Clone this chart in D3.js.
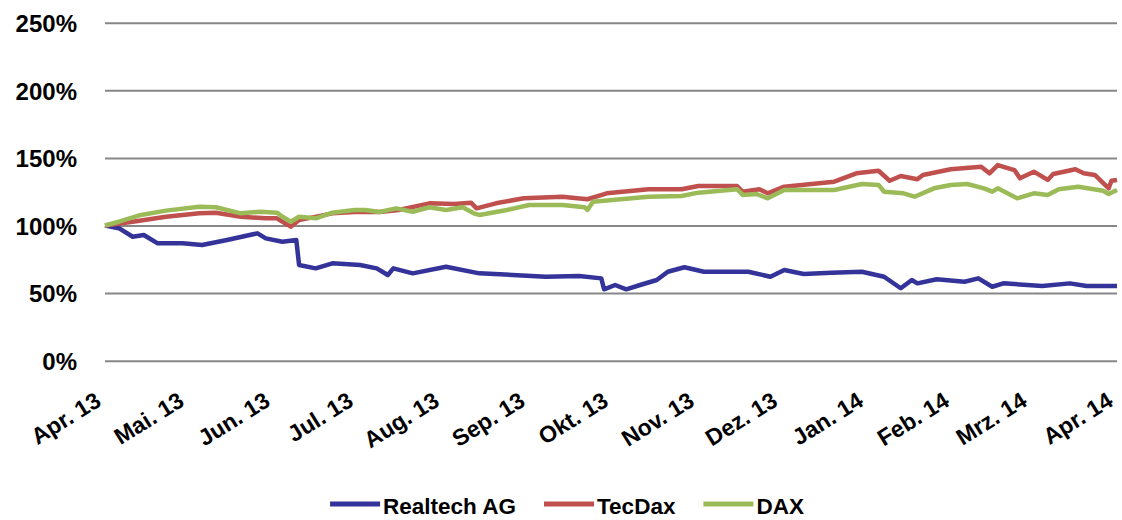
<!DOCTYPE html>
<html><head><meta charset="utf-8">
<script src="https://cdn.jsdelivr.net/npm/d3@7"></script>
<style>
body{margin:0;background:#fff}
svg{display:block}
text{font-family:"Liberation Sans",Arial,sans-serif;font-weight:bold;fill:#000}
</style>
</head><body>
<svg id="chart" width="1122" height="520"></svg>
<script>
const tickLabels = ["Apr. 13","Mai. 13","Jun. 13","Jul. 13","Aug. 13","Sep. 13","Okt. 13","Nov. 13","Dez. 13","Jan. 14","Feb. 14","Mrz. 14","Apr. 14"];
const yTicks = [0,50,100,150,200,250];
const seriesNames = ["Realtech AG","TecDax","DAX"];
const seriesColors = ["#333399","#C0504D","#9BBB59"];

const realtechDates = ["2013-04-01","2013-04-06","2013-04-11","2013-04-15","2013-04-20","2013-04-29","2013-05-06","2013-05-15","2013-05-26","2013-05-29","2013-06-04","2013-06-09","2013-06-10","2013-06-16","2013-06-22","2013-07-02","2013-07-08","2013-07-12","2013-07-14","2013-07-21","2013-08-02","2013-08-14","2013-08-26","2013-09-07","2013-09-19","2013-09-27","2013-09-28","2013-10-02","2013-10-06","2013-10-11","2013-10-17","2013-10-21","2013-10-27","2013-11-03","2013-11-19","2013-11-27","2013-12-02","2013-12-09","2013-12-19","2013-12-30","2014-01-07","2014-01-13","2014-01-17","2014-01-19","2014-01-26","2014-02-05","2014-02-10","2014-02-15","2014-02-19","2014-03-05","2014-03-15","2014-03-21","2014-04-01"];
const realtechValues = [100,98,91.7,93,86.8,86.8,85.6,89.3,94.2,90.5,88,89.3,70.8,68.3,72,70.8,68.3,63.4,68.3,64.6,69.5,64.6,63.4,62.1,62.6,60.9,52.8,56,52.8,56,59.7,65.8,69.1,65.8,65.8,62.1,67.1,64.1,65.1,65.8,62.1,53.6,59.7,57.2,60.2,58.4,60.9,54.7,57.2,55.3,57.2,55.3,55.3];

const tecdaxDates = ["2013-04-01","2013-04-11","2013-04-23","2013-05-05","2013-05-11","2013-05-20","2013-05-29","2013-06-02","2013-06-06","2013-06-07","2013-06-10","2013-06-22","2013-06-30","2013-07-09","2013-07-16","2013-07-27","2013-08-05","2013-08-11","2013-08-13","2013-08-20","2013-08-30","2013-09-13","2013-09-22","2013-09-29","2013-10-14","2013-10-26","2013-11-01","2013-11-15","2013-11-17","2013-11-23","2013-11-26","2013-12-02","2013-12-20","2013-12-28","2014-01-05","2014-01-09","2014-01-13","2014-01-19","2014-01-21","2014-01-31","2014-02-11","2014-02-14","2014-02-17","2014-02-23","2014-02-25","2014-03-02","2014-03-07","2014-03-09","2014-03-17","2014-03-20","2014-03-24","2014-03-29","2014-03-30","2014-04-01"];
const tecdaxValues = [100,102.8,106.5,109,109.5,106.5,105.3,105.3,100.4,99.1,104,109,110,110,111.5,116.4,115.9,116.9,112.7,116.4,120.1,121.3,119.4,123.8,126.8,126.8,129.2,129.2,125,126.8,123.8,128.7,132.4,138.6,140.5,133.1,136.6,134.2,137.4,141.6,143.5,138.6,144.7,141,134.9,139.8,133.7,138.1,141.6,138.6,137.4,127.5,133.1,133.7];

const daxDates = ["2013-04-01","2013-04-06","2013-04-14","2013-04-23","2013-05-05","2013-05-11","2013-05-20","2013-05-27","2013-06-02","2013-06-04","2013-06-07","2013-06-10","2013-06-16","2013-06-22","2013-06-30","2013-07-04","2013-07-09","2013-07-15","2013-07-21","2013-07-27","2013-08-02","2013-08-08","2013-08-12","2013-08-14","2013-08-24","2013-09-01","2013-09-13","2013-09-21","2013-09-22","2013-09-24","2013-10-01","2013-10-14","2013-10-26","2013-11-01","2013-11-15","2013-11-17","2013-11-22","2013-11-26","2013-12-02","2013-12-20","2013-12-30","2014-01-05","2014-01-07","2014-01-14","2014-01-18","2014-01-25","2014-01-31","2014-02-06","2014-02-12","2014-02-15","2014-02-17","2014-02-24","2014-03-02","2014-03-07","2014-03-11","2014-03-18","2014-03-27","2014-03-29","2014-04-01"];
const daxValues = [100,102.8,107.8,111,113.9,113.5,109,110.2,109.5,106.5,102.8,106.5,105.3,109.5,111.5,111.5,110,112.7,110.2,113.5,111.5,113.5,109,107.8,111.5,115.2,115.2,113.5,111.5,117.6,118.9,121.3,121.8,124.3,126.8,122.6,123.3,120.1,126.3,126.3,130.7,130,125,123.8,121.3,127.5,130,130.7,127.5,125,127.5,120.1,123.8,122.6,126.8,128.7,125.7,123.3,126.3];

const parse = d3.timeParse("%Y-%m-%d");
const series = [
  {name: seriesNames[0], color: seriesColors[0], dates: realtechDates, values: realtechValues},
  {name: seriesNames[1], color: seriesColors[1], dates: tecdaxDates, values: tecdaxValues},
  {name: seriesNames[2], color: seriesColors[2], dates: daxDates, values: daxValues}
].map(s => ({...s, points: s.dates.map((d, i) => ({date: parse(d), value: s.values[i]}))}));

const svg = d3.select("#chart");
const plotLeft = 105, plotRight = 1117, plotTop = 22.7, plotBottom = 360.7;

const x = d3.scaleTime().domain([parse("2013-04-01"), parse("2014-04-01")]).range([plotLeft, plotRight]);
const y = d3.scaleLinear().domain([0, 250]).range([plotBottom, plotTop]);

// Y axis with gridlines
const yAxis = svg.append("g").attr("transform", `translate(${plotLeft},0)`)
  .call(d3.axisLeft(y).tickValues(yTicks).tickSize(-(plotRight - plotLeft)).tickPadding(28).tickFormat(d => d + "%"));
yAxis.select(".domain").remove();
yAxis.selectAll(".tick line").attr("stroke", "#878787").attr("stroke-width", 2);
yAxis.selectAll(".tick text").attr("font-size", 24).attr("dy", "0.37em").attr("fill", "#000");

// X axis labels
const monthTicks = d3.timeMonth.range(parse("2013-04-01"), parse("2014-04-02"));
const xAxis = svg.append("g").attr("transform", `translate(0,${plotBottom})`)
  .call(d3.axisBottom(x).tickValues(monthTicks).tickSize(0).tickFormat((d, i) => tickLabels[i]));
xAxis.select(".domain").remove();
xAxis.selectAll(".tick text")
  .attr("font-size", 23)
  .attr("text-anchor", "end")
  .attr("y", 0).attr("dy", 0)
  .attr("transform", "translate(-3,44) rotate(-32)")
  .attr("fill", "#000");

// Lines
const line = d3.line().x(d => x(d.date)).y(d => y(d.value));
svg.append("g").selectAll("path").data(series).join("path")
  .attr("d", s => line(s.points))
  .attr("fill", "none")
  .attr("stroke", s => s.color)
  .attr("stroke-width", 4.5)
  .attr("stroke-linejoin", "round");

// Legend
const legend = svg.append("g");
const items = legend.selectAll("g").data(series).join("g");
items.append("line").attr("x1", 0).attr("x2", 50).attr("y1", 0).attr("y2", 0)
  .attr("stroke", s => s.color).attr("stroke-width", 5);
items.append("text").attr("x", 53).attr("y", 0).attr("dy", "0.45em")
  .attr("font-size", 22.5).text(s => s.name);
const widths = [];
items.each(function() { widths.push(53 + this.querySelector("text").getComputedTextLength()); });
const gap = 28;
const total = d3.sum(widths) + gap * (widths.length - 1);
let cx = 567 - total / 2;
items.attr("transform", (s, i) => {
  const t = `translate(${cx},504)`;
  cx += widths[i] + gap;
  return t;
});
</script>
</body></html>
